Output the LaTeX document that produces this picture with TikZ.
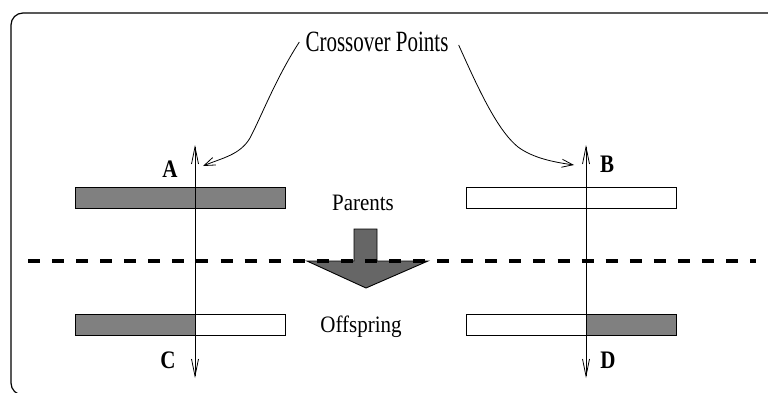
\documentclass[tikz,border=0pt]{standalone}
\usepackage{fontspec}
\setmainfont{Liberation Serif}
\usetikzlibrary{arrows.meta}
\definecolor{chromgray}{gray}{0.5}
\definecolor{flowgray}{gray}{0.4}
\newcommand{\tallcap}[2]{\scalebox{1}[#1]{#2}}
\tikzset{
  chrom/.style={draw=black, line width=0.9pt, inner sep=0pt, minimum height=21pt, outer sep=0pt},
  full/.style={chrom, minimum width=210pt},
  part/.style={chrom},
  cut/.style={line width=0.8pt, {Straight Barb[length=17pt,width=7pt]}-{Straight Barb[length=17pt,width=7pt]}},
  pointer/.style={line width=0.8pt, -{Straight Barb[length=11pt,width=8pt]}},
  caption/.style={font=\fontsize{21}{25}\selectfont, inner sep=0pt, anchor=base},
  letter/.style={font=\bfseries\fontsize{21}{25}\selectfont, inner sep=0pt, anchor=base}
}
\begin{document}
\begin{tikzpicture}[x=1pt, y=-1pt]
\useasboundingbox (0,0) rectangle (768,393);
\begin{scope}
\clip (0,0) rectangle (768,393);
% outer frame, running off the right and bottom edges
\draw[line width=1.2pt, rounded corners=12pt] (11,13) rectangle (820,395);
\end{scope}

% parents
\node[full, fill=chromgray] (pa) at (180,197.5) {};
\node[full, fill=white] (pb) at (571,197.5) {};

% offspring, built from two segments each
\node[part, fill=chromgray, minimum width=120pt] (ca1) at (135,325) {};
\node[part, fill=white, minimum width=90pt] (ca2) at (240,325) {};
\node[part, fill=white, minimum width=120pt] (cb1) at (526,325) {};
\node[part, fill=chromgray, minimum width=90pt] (cb2) at (631,325) {};

% direction arrow between generations
\draw[line width=0.9pt, fill=flowgray] (354,229) -- (377,229) -- (377,261) -- (428,261)
  -- (366,288) -- (307,261) -- (354,261) -- cycle;

% generation separator
\coordinate (sepL) at (28,261);
\coordinate (sepR) at (756,261);
\draw[line width=4.2pt, dash pattern=on 12pt off 12.07pt] (sepL) -- (sepR);

% crossover cuts
\coordinate (cutAtop) at (195,145);
\coordinate (cutAbot) at (195,378);
\coordinate (cutBtop) at (586,145);
\coordinate (cutBbot) at (586,378);
\draw[cut] (cutAbot) -- (cutAtop);
\draw[cut] (cutBbot) -- (cutBtop);

% labels
\node[caption] (cross) at (377,52) {\tallcap{1.4}{Crossover Points}};
\node[caption] (parents) at (363,210) {\tallcap{1.12}{Parents}};
\node[caption] (offspring) at (361,332) {\tallcap{1.12}{Offspring}};
\node[letter] (la) at (170,177) {\tallcap{1.2}{A}};
\node[letter] (lb) at (607,172) {\tallcap{1.2}{B}};
\node[letter] (lc) at (168,368) {\tallcap{1.2}{C}};
\node[letter] (ld) at (608,368) {\tallcap{1.2}{D}};

% pointers from the caption to the cuts
\coordinate (ptA) at (203,166);
\coordinate (ptB) at (574,165);
\draw[pointer] ([xshift=-6pt,yshift=10pt]cross.base west) .. controls (276,78) and (262,115) .. (250,138)
  .. controls (240,155) and (222,158) .. (ptA);
\draw[pointer] ([xshift=10pt,yshift=7pt]cross.base east) .. controls (478,88) and (497,130) .. (518,147)
  .. controls (533,158) and (553,162) .. (ptB);
\end{tikzpicture}
\end{document}
